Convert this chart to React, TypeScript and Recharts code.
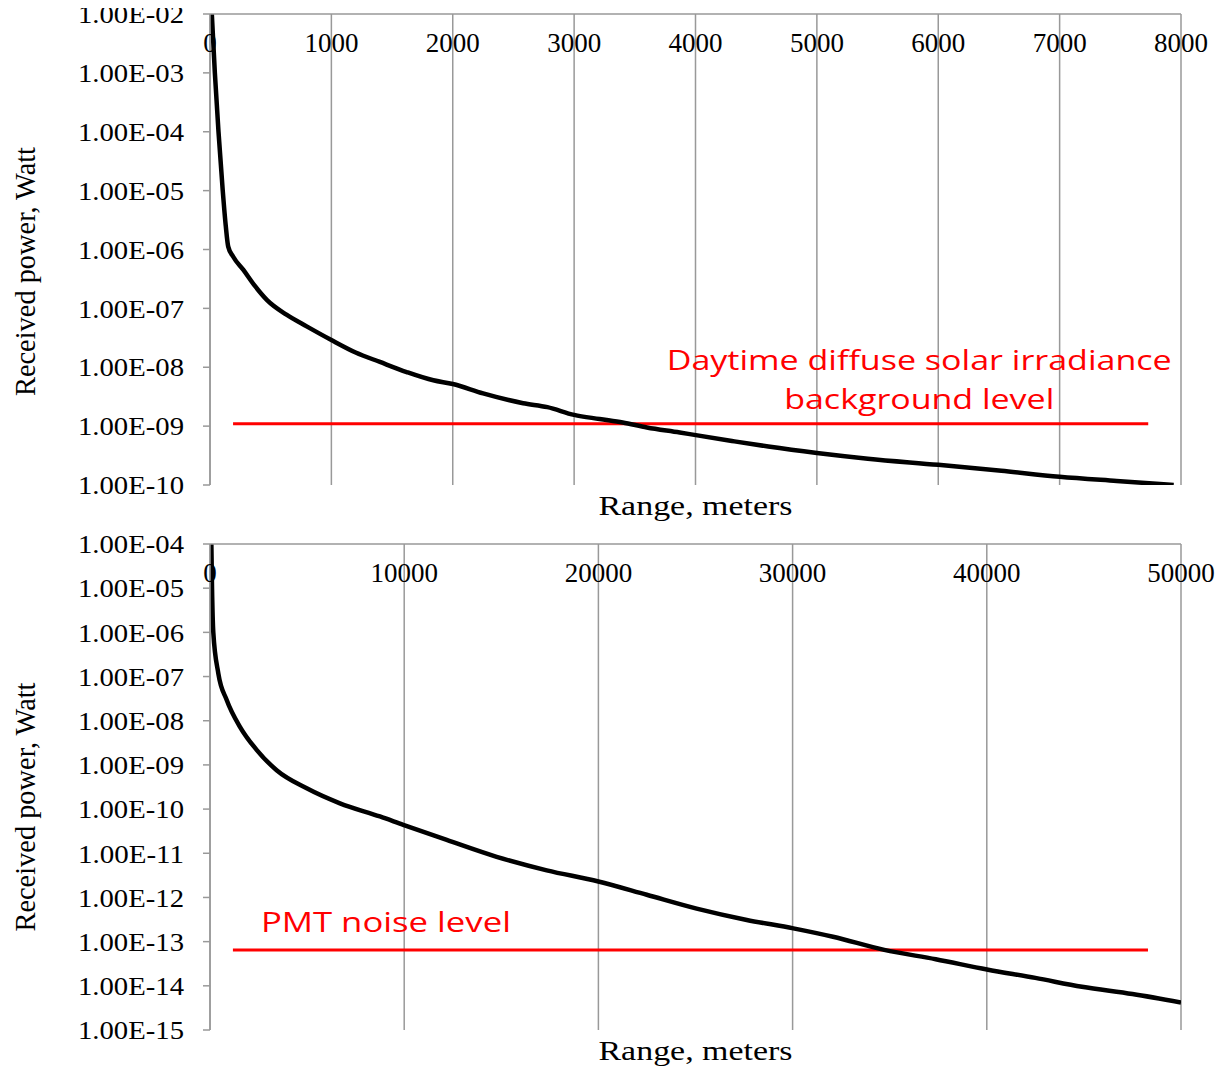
import React from "react";
import { CartesianGrid, Line, LineChart, ReferenceLine, XAxis, YAxis } from "recharts";

// upper panel: 0-8000 m
const nearRange = [15, 40, 70, 105, 130, 150, 190, 275, 370, 470, 630, 800, 1000, 1200, 1400, 1620, 1840, 2000, 2250, 2580, 2780, 3000, 3210, 3400, 3600, 3870, 3990, 4300, 4600, 5000, 5420, 6000, 6520, 7000, 7470, 7940];
const nearPower = [1.0e-2, 1.0e-3, 1.0e-4, 1.0e-5, 2.5e-6, 1.12e-6, 7.6e-7, 4.5e-7, 2.4e-7, 1.38e-7, 7.8e-8, 4.9e-8, 2.9e-8, 1.78e-8, 1.23e-8, 8.3e-9, 6.0e-9, 5.2e-9, 3.6e-9, 2.45e-9, 2.1e-9, 1.55e-9, 1.32e-9, 1.15e-9, 9.5e-10, 7.8e-10, 7.1e-10, 5.6e-10, 4.5e-10, 3.5e-10, 2.8e-10, 2.2e-10, 1.74e-10, 1.38e-10, 1.17e-10, 1.0e-10];
const nearTicks = [0, 1000, 2000, 3000, 4000, 5000, 6000, 7000, 8000];
const nearDecades = [1e-10, 1e-9, 1e-8, 1e-7, 1e-6, 1e-5, 1e-4, 1e-3, 1e-2];
const daytimeLevel = 1.1e-9;
const daytimeSpan = [190, 7730];

// lower panel: 0-50000 m
const farRange = [70, 105, 170, 430, 860, 1550, 2400, 3430, 4980, 6690, 8750, 9950, 12190, 14760, 17340, 20000, 22490, 25060, 27640, 30040, 32080, 34720, 37370, 40010, 42500, 44900, 47500, 50000];
const farPower = [1.0e-4, 1.0e-5, 1.0e-6, 1.17e-7, 2.95e-8, 7.2e-9, 2.19e-9, 7.6e-10, 2.95e-10, 1.35e-10, 6.8e-11, 4.4e-11, 2.0e-11, 8.3e-12, 4.1e-12, 2.3e-12, 1.15e-12, 5.6e-13, 3.1e-13, 2.0e-13, 1.29e-13, 6.5e-14, 4.0e-14, 2.35e-14, 1.51e-14, 9.5e-15, 6.5e-15, 4.2e-15];
const farTicks = [0, 10000, 20000, 30000, 40000, 50000];
const farDecades = [1e-15, 1e-14, 1e-13, 1e-12, 1e-11, 1e-10, 1e-9, 1e-8, 1e-7, 1e-6, 1e-5, 1e-4];
const pmtLevel = 6.5e-14;
const pmtSpan = [1180, 48300];

const SERIF = '"Liberation Serif", "Times New Roman", serif';
const SANS = '"Open Sans", "Noto Sans", sans-serif';
const GRID = "#999999";
const RED = "#ff0000";

const sci = (v: number) => {
  const [m, e] = v.toExponential(2).split("e");
  const n = Math.abs(parseInt(e, 10));
  return `${m}E${e.startsWith("-") ? "-" : "+"}${String(n).padStart(2, "0")}`;
};

const XTick = ({ x, y, payload }: any) => (
  <text x={x} y={y + 38} textAnchor="middle" fontFamily={SERIF} fontSize={27} fill="#000">
    {payload.value}
  </text>
);

const YTick = ({ x, y, payload }: any) => (
  <text x={x} y={y} dy="0.355em" textAnchor="end" fontFamily={SERIF} fontSize={26} fill="#000" textLength={106} lengthAdjust="spacingAndGlyphs">
    {sci(payload.value)}
  </text>
);

const YTitle = ({ viewBox, shift }: any) => {
  const cx = viewBox.x + 17;
  const cy = viewBox.y + viewBox.height / 2 + shift;
  return (
    <text x={cx} y={cy} transform={`rotate(-90 ${cx} ${cy})`} textAnchor="middle" dominantBaseline="central" fontFamily={SERIF} fontSize={29} fill="#000" textLength={249} lengthAdjust="spacingAndGlyphs">
      Received power, Watt
    </text>
  );
};

const XTitle = ({ viewBox }: any) => (
  <text x={viewBox.x + viewBox.width / 2} y={viewBox.y + 30} textAnchor="middle" fontFamily={SERIF} fontSize={28} fill="#000" textLength={194} lengthAdjust="spacingAndGlyphs">
    Range, meters
  </text>
);

const DaytimeNote = ({ viewBox }: any) => {
  const cx = viewBox.x + viewBox.width - 229;
  return (
    <text fill={RED} fontFamily={SANS} fontSize={28} textAnchor="middle">
      <tspan x={cx} y={viewBox.y - 54} textLength={505} lengthAdjust="spacingAndGlyphs">Daytime diffuse solar irradiance</tspan>
      <tspan x={cx} y={viewBox.y - 15} textLength={270} lengthAdjust="spacingAndGlyphs">background level</tspan>
    </text>
  );
};

const PmtNote = ({ viewBox }: any) => (
  <text x={viewBox.x + 28} y={viewBox.y - 18} fill={RED} fontFamily={SANS} fontSize={28} textLength={250} lengthAdjust="spacingAndGlyphs">
    PMT noise level
  </text>
);

interface PanelProps {
  range: number[];
  power: number[];
  ticks: number[];
  decades: number[];
  level: number;
  span: number[];
  titleHeight: number;
  titleShift: number;
  note: (p: any) => React.ReactElement;
}

function Panel({ range, power, ticks, decades, level, span, titleHeight, titleShift, note }: PanelProps) {
  const data = range.map((r, i) => ({ range: r, power: power[i] }));
  const xMax = ticks[ticks.length - 1];
  return (
    <LineChart width={1210} height={530} data={data} margin={{ top: 0, right: 37, bottom: 0, left: 0 }}>
      <CartesianGrid xAxisId="top" horizontal={false} stroke={GRID} strokeWidth={1.5} />
      <XAxis
        xAxisId="top"
        type="number"
        dataKey="range"
        domain={[0, xMax]}
        ticks={ticks}
        interval={0}
        allowDataOverflow
        orientation="top"
        height={6}
        tickSize={0}
        tickMargin={0}
        tickLine={false}
        axisLine={{ stroke: GRID, strokeWidth: 1.5 }}
        tick={<XTick />}
      />
      <XAxis
        xAxisId="title"
        type="number"
        dataKey="range"
        domain={[0, xMax]}
        orientation="bottom"
        height={titleHeight}
        tick={false}
        tickLine={false}
        axisLine={false}
        label={(p: any) => <XTitle viewBox={p.viewBox} />}
      />
      <YAxis
        scale="log"
        domain={[decades[0], decades[decades.length - 1]]}
        ticks={decades}
        interval={0}
        allowDataOverflow
        width={202}
        tickSize={7}
        tickMargin={19}
        tickLine={{ stroke: GRID, strokeWidth: 1.5 }}
        axisLine={{ stroke: GRID, strokeWidth: 1.5 }}
        tick={<YTick />}
        label={(p: any) => <YTitle viewBox={p.viewBox} shift={titleShift} />}
      />
      <ReferenceLine
        xAxisId="top"
        segment={[{ x: span[0], y: level }, { x: span[1], y: level }]}
        stroke={RED}
        strokeWidth={3}
        label={note}
      />
      <Line xAxisId="top" type="monotone" dataKey="power" stroke="#000" strokeWidth={4.5} dot={false} activeDot={false} isAnimationActive={false} />
    </LineChart>
  );
}

export default function App() {
  return (
    <div style={{ width: 1210, background: "#fff" }}>
      <style>{`svg.recharts-surface { overflow: visible; }`}</style>
      <Panel
        range={nearRange}
        power={nearPower}
        ticks={nearTicks}
        decades={nearDecades}
        level={daytimeLevel}
        span={daytimeSpan}
        titleHeight={53}
        titleShift={22}
        note={(p: any) => <DaytimeNote viewBox={p.viewBox} />}
      />
      <Panel
        range={farRange}
        power={farPower}
        ticks={farTicks}
        decades={farDecades}
        level={pmtLevel}
        span={pmtSpan}
        titleHeight={38}
        titleShift={20}
        note={(p: any) => <PmtNote viewBox={p.viewBox} />}
      />
    </div>
  );
}
